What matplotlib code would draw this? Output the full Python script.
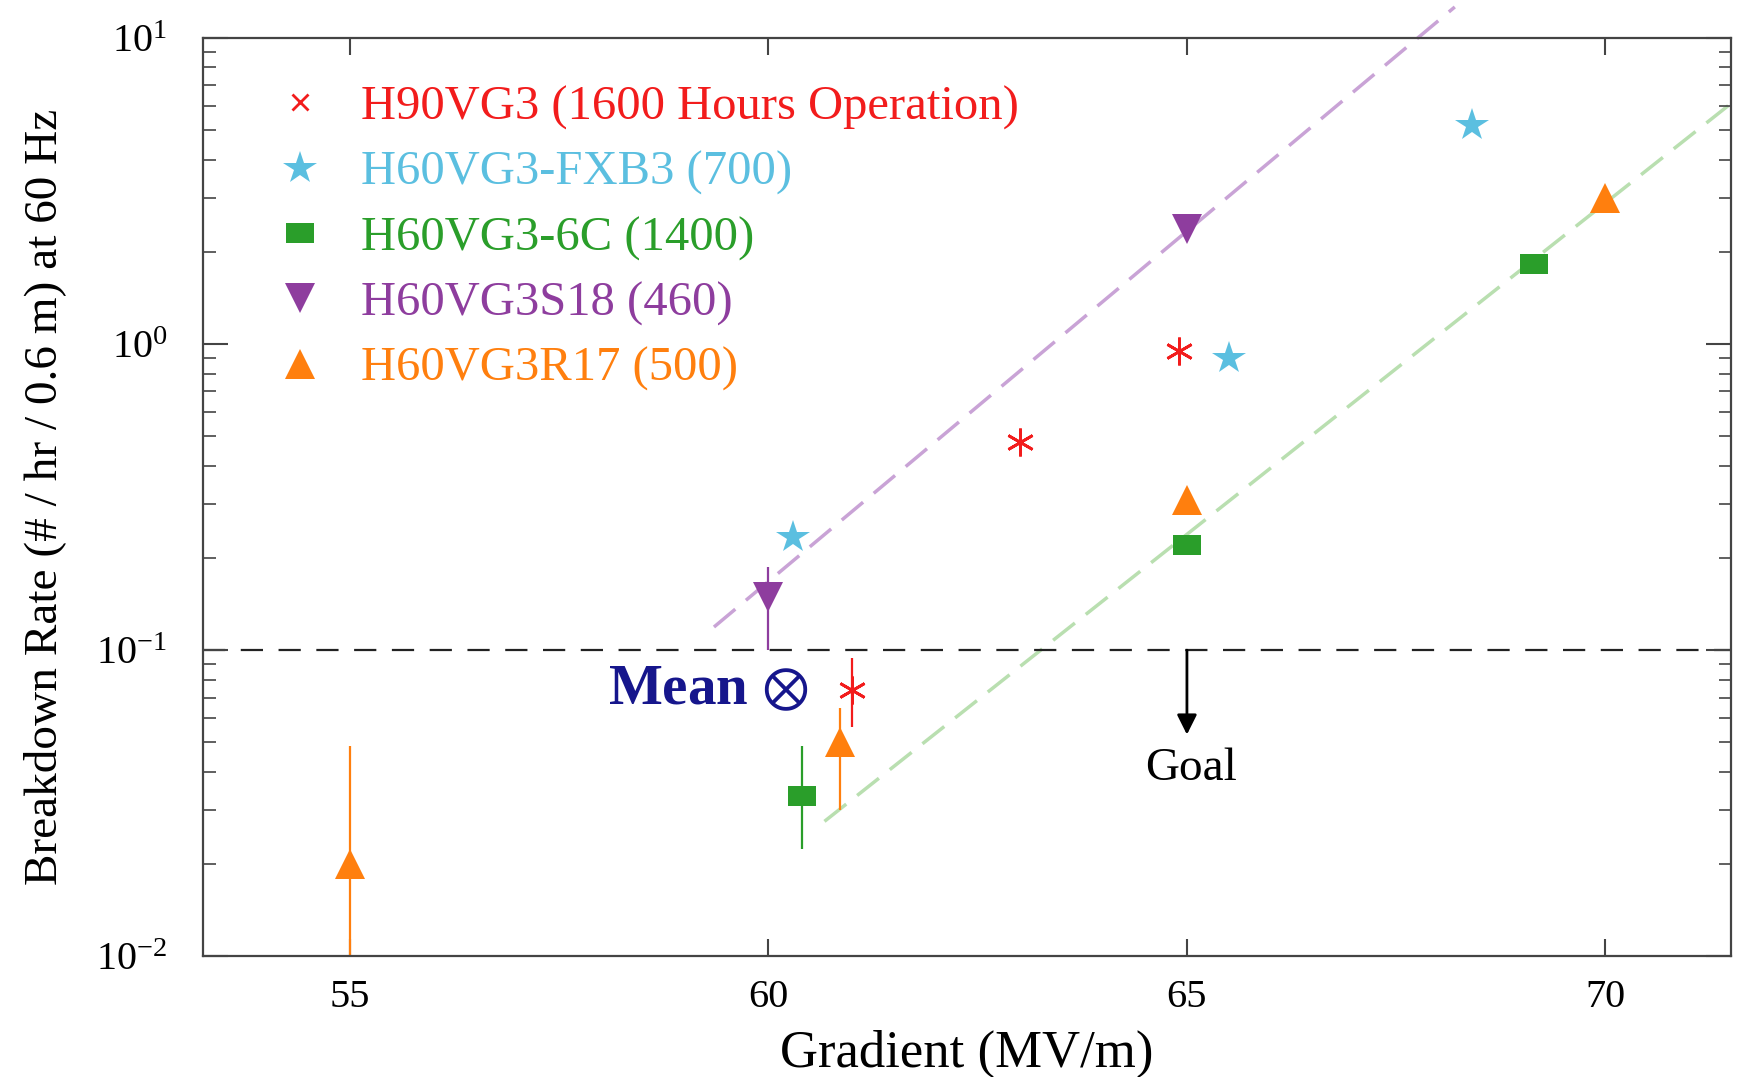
import numpy as np
import matplotlib.pyplot as plt
from matplotlib.lines import Line2D
from matplotlib.ticker import NullLocator

plt.rcParams['font.family'] = ['Liberation Serif', 'DejaVu Serif']
plt.rcParams['mathtext.fontset'] = 'stix'

# values
h90_x = [61.0, 63.0, 64.9]
h90_y = [0.074, 0.48, 0.95]
fxb3_x = [60.3, 65.5, 68.4]
fxb3_y = [0.235, 0.90, 5.2]
c6_x = [60.4, 65.0, 69.15]
c6_y = [0.0335, 0.22, 1.83]
s18_x = [60.0, 65.0]
s18_y = [0.149, 2.37]
r17_x = [55.0, 60.85, 65.0, 70.0]
r17_y = [0.020, 0.050, 0.31, 3.0]

# error bars: x, low, high
h90_err = ([61.0], [0.056], [0.094])
c6_err = ([60.4], [0.0224], [0.0486])
s18_err = ([60.0], [0.100], [0.187])
r17_err = ([55.0, 60.85], [0.005, 0.030], [0.0486, 0.0645])

# dashed trend lines (end points)
fit_s18_x = [59.35, 68.2]
fit_s18_y = [0.119, 12.6]
fit_c6_x = [60.67, 71.5]
fit_c6_y = [0.0276, 6.1]

goal = 0.1
labels = ['H90VG3 (1600 Hours Operation)', 'H60VG3-FXB3 (700)', 'H60VG3-6C (1400)',
          'H60VG3S18 (460)', 'H60VG3R17 (500)']

red = '#f21c1c'
cyan = '#5bbfe0'
green = '#2a9e2a'
purple = '#8e3d9e'
orange = '#ff7f0e'
navy = '#16168c'

rect = [(-1.35, -1), (1.35, -1), (1.35, 1), (-1.35, 1), (-1.35, -1)]

fig = plt.figure(figsize=(17.38, 10.77), dpi=100)
ax = fig.add_axes([0.117, 0.112, 0.879, 0.853])
ax.set_yscale('log')

# trend lines and goal
ax.plot(fit_s18_x, fit_s18_y, color='#c9a3d6', lw=2.5, ls=(0, (8, 4)), clip_on=False, zorder=1)
ax.plot(fit_c6_x, fit_c6_y, color='#b9dfb0', lw=2.5, ls=(0, (8, 4)), clip_on=False, zorder=1)
ax.axhline(goal, color='#222222', lw=1.6, ls=(0, (10, 7)), zorder=1.5)
ax.annotate('', xy=(65, 0.053), xytext=(65, goal),
            arrowprops=dict(arrowstyle='-|>', color='k', lw=2, mutation_scale=30,
                            shrinkA=0, shrinkB=0))
ax.text(65.05, 0.041, 'Goal', ha='center', va='center', fontsize=34)

# error bars
for e, c in [(h90_err, red), (c6_err, green), (s18_err, purple), (r17_err, orange)]:
    ax.vlines(e[0], e[1], e[2], color=c, lw=1.6, zorder=2)

# points
ax.plot(h90_x, h90_y, ls='none', marker=(6, 2, 0), ms=20, mew=2, color=red, zorder=3)
ax.plot(fxb3_x, fxb3_y, ls='none', marker='*', ms=25, mew=0, color=cyan, zorder=3)
ax.plot(c6_x, c6_y, ls='none', marker=rect, ms=20, mew=0, color=green, zorder=3)
ax.plot(s18_x, s18_y, ls='none', marker='v', ms=22, mew=0, color=purple, zorder=3)
ax.plot(r17_x, r17_y, ls='none', marker='^', ms=22, mew=0, color=orange, zorder=3)

ax.text(58.08, 0.074, 'Mean $\\otimes$', color=navy, fontsize=41, fontweight='bold',
        ha='left', va='center')

handles = [
    Line2D([], [], ls='none', marker='x', ms=12, mew=2, color=red),
    Line2D([], [], ls='none', marker='*', ms=25, mew=0, color=cyan),
    Line2D([], [], ls='none', marker=rect, ms=20, mew=0, color=green),
    Line2D([], [], ls='none', marker='v', ms=22, mew=0, color=purple),
    Line2D([], [], ls='none', marker='^', ms=22, mew=0, color=orange),
]
ax.legend(handles, labels, loc='upper left', bbox_to_anchor=(0.044, 0.948), frameon=False,
          fontsize=35, labelcolor=[red, cyan, green, purple, orange], handlelength=1.2,
          handletextpad=0.66, labelspacing=0.43, borderpad=0, borderaxespad=0, numpoints=1)

ax.set_xlim(53.25, 71.5)
ax.set_ylim(0.01, 10)
ax.set_xticks([55, 60, 65, 70])
ax.xaxis.set_minor_locator(NullLocator())
ax.tick_params(which='both', direction='in', top=True, right=True, color='#444444')
ax.tick_params(axis='y', which='major', length=18, width=1.5, labelsize=29, pad=26)
ax.tick_params(axis='y', which='minor', length=9, width=1.2)
ax.tick_params(axis='x', which='major', length=12, width=1.5, labelsize=29, pad=16)
for s in ax.spines.values():
    s.set_color('#444444')
    s.set_linewidth(1.6)

ax.set_xlabel('Gradient (MV/m)', fontsize=38, labelpad=10)
ax.set_ylabel('Breakdown Rate (# / hr / 0.6 m) at 60 Hz', fontsize=34)
ax.yaxis.set_label_coords(-0.09, 0.5)

fig.savefig('out.png', dpi=100)
